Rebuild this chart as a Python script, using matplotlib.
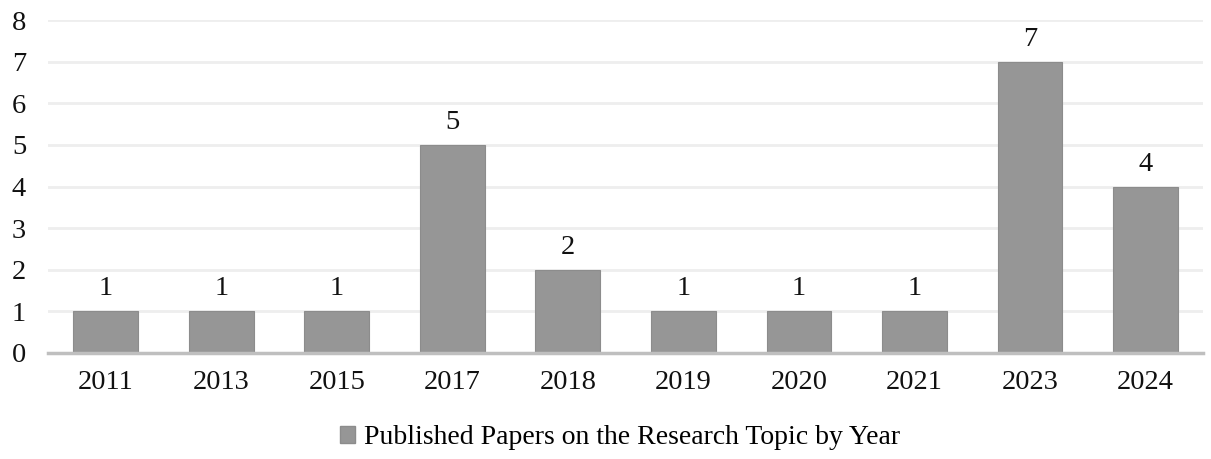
import matplotlib.pyplot as plt
from matplotlib.patches import Patch

years = ["2011", "2013", "2015", "2017", "2018", "2019", "2020", "2021", "2023", "2024"]
papers = [1, 1, 1, 5, 2, 1, 1, 1, 7, 4]
yticks = [0, 1, 2, 3, 4, 5, 6, 7, 8]

plt.rcParams['font.family'] = ['Liberation Serif', 'DejaVu Serif']
fs = 20.5

fig = plt.figure(figsize=(12.11, 4.59), dpi=100)
ax = fig.add_axes([0.0396, 0.231, 0.954, 0.725])

x = range(len(years))
ax.bar(x, papers, width=0.56, color='#969696', edgecolor='#8c8c8c', linewidth=0.8, zorder=3)
for xi, v in zip(x, papers):
    ax.text(xi, v + 0.24, str(v), ha='center', va='bottom', fontsize=fs, color='#111111')

ax.set_xlim(-0.5, len(years) - 0.5)
ax.set_ylim(0, 8)
ax.set_yticks(yticks)
ax.set_xticks(list(x))
ax.set_xticklabels(years)
ax.tick_params(axis='both', length=0, labelsize=fs, colors='#111111')
ax.tick_params(axis='x', pad=12)
ax.tick_params(axis='y', pad=26)
for lab in ax.get_yticklabels():
    lab.set_horizontalalignment('left')
ax.yaxis.grid(True, color='#eeeeee', linewidth=2, zorder=0)
for side in ['top', 'right', 'left']:
    ax.spines[side].set_visible(False)
ax.spines['bottom'].set_color('#bfbfbf')
ax.spines['bottom'].set_linewidth(2.5)
ax.spines['bottom'].set_zorder(4)

handle = Patch(facecolor='#969696', edgecolor='#8c8c8c')
fig.legend([handle], ["Published Papers on the Research Topic by Year"], loc='center',
           bbox_to_anchor=(0.512, 0.046), frameon=False, fontsize=20,
           handlelength=0.55, handleheight=0.55, handletextpad=0.3)

fig.savefig('out.png', dpi=100)
